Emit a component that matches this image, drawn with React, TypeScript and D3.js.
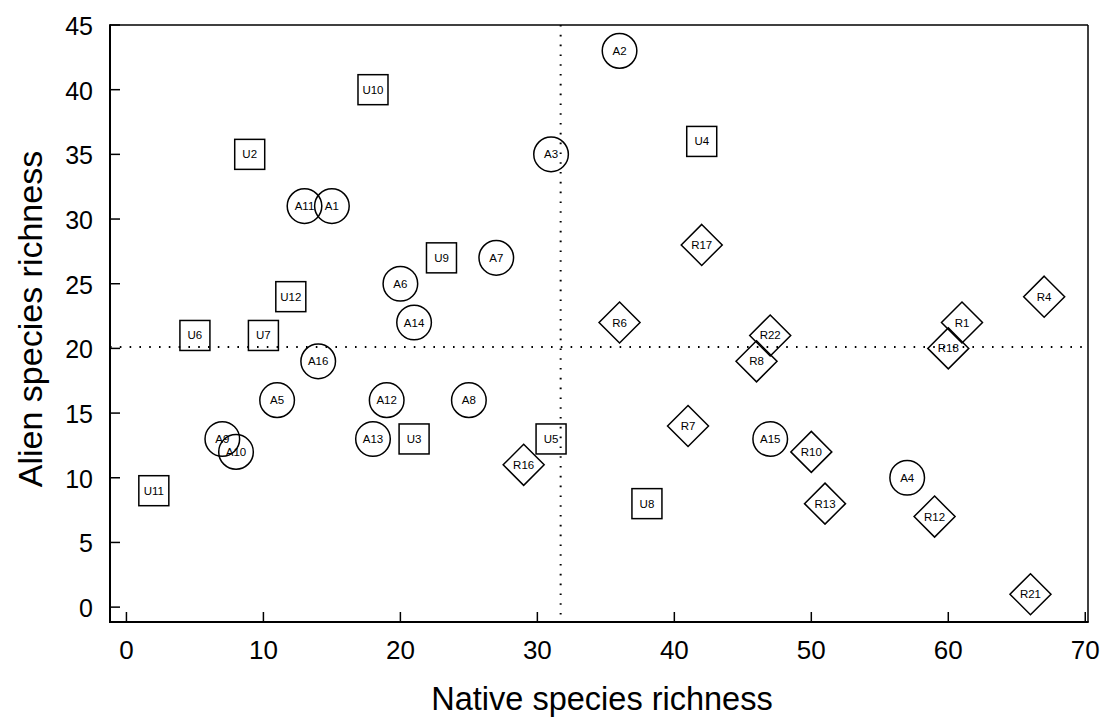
import React from "react";
import * as d3 from "d3";

const labelsA = ["A1","A2","A3","A4","A5","A6","A7","A8","A9","A10","A11","A12","A13","A14","A15","A16"];
const nativeA = [15,36,31,57,11,20,27,25,7,8,13,19,18,21,47,14];
const alienA = [31,43,35,10,16,25,27,16,13,12,31,16,13,22,13,19];

const labelsU = ["U2","U3","U4","U5","U6","U7","U8","U9","U10","U11","U12"];
const nativeU = [9,21,42,31,5,10,38,23,18,2,12];
const alienU = [35,13,36,13,21,21,8,27,40,9,24];

const labelsR = ["R1","R4","R6","R7","R8","R10","R12","R13","R16","R17","R18","R21","R22"];
const nativeR = [61,67,36,41,46,50,59,51,29,42,60,66,47];
const alienR = [22,24,22,14,19,12,7,8,11,28,20,1,21];

const xTicks = [0,10,20,30,40,50,60,70];
const yTicks = [0,5,10,15,20,25,30,35,40,45];
const vLine = 31.7;
const hLine = 20.1;

const W = 1107, H = 719;
const L = 110, R = 1088, T = 25, B = 622;

export default function App() {
  const x = d3.scaleLinear().domain([-1.2, 70.2]).range([L, R]);
  const y = d3.scaleLinear().domain([-1.15, 45]).range([B, T]);
  const font = "'Liberation Sans', Arial, sans-serif";
  const labelSize = 11.5;

  return (
    <svg width={W} height={H} style={{ position: "absolute", left: 0, top: 0, background: "#fff" }} fontFamily={font}>
      {/* dotted reference lines */}
      <line x1={x(vLine)} x2={x(vLine)} y1={T} y2={B} stroke="#000" strokeWidth={2} strokeDasharray="1.6,8.2" />
      <line x1={L} x2={R} y1={y(hLine)} y2={y(hLine)} stroke="#000" strokeWidth={2} strokeDasharray="1.6,8.2" />

      {/* frame */}
      <line x1={L} x2={R} y1={T} y2={T} stroke="#000" strokeWidth={1.5} />
      <line x1={R} x2={R} y1={T} y2={B} stroke="#000" strokeWidth={1.5} />
      <line x1={L} x2={L} y1={T - 0.75} y2={B + 1} stroke="#000" strokeWidth={2} />
      <line x1={L - 1} x2={R + 0.75} y1={B} y2={B} stroke="#000" strokeWidth={2} />

      {/* ticks */}
      {xTicks.map((t) => (
        <g key={"xt" + t}>
          <line x1={x(t)} x2={x(t)} y1={B} y2={B - 10} stroke="#000" strokeWidth={1.5} />
          <text x={x(t)} y={659} textAnchor="middle" fontSize={26}>{t}</text>
        </g>
      ))}
      {yTicks.map((t) => (
        <g key={"yt" + t}>
          <line x1={L} x2={L + 10} y1={y(t)} y2={y(t)} stroke="#000" strokeWidth={1.5} />
          <text x={93} y={y(t) + 10} textAnchor="end" fontSize={25}>{t}</text>
        </g>
      ))}

      {/* axis titles */}
      <text x={602} y={710} textAnchor="middle" fontSize={32.5}>Native species richness</text>
      <text transform={`translate(42,319) rotate(-90)`} textAnchor="middle" fontSize={34}>Alien species richness</text>

      {/* circles A */}
      {labelsA.map((lab, i) => (
        <g key={lab}>
          <circle cx={x(nativeA[i])} cy={y(alienA[i])} r={17.3} fill="none" stroke="#000" strokeWidth={1.5} />
          <text x={x(nativeA[i])} y={y(alienA[i]) + 4} textAnchor="middle" fontSize={labelSize}>{lab}</text>
        </g>
      ))}

      {/* squares U */}
      {labelsU.map((lab, i) => (
        <g key={lab}>
          <rect x={x(nativeU[i]) - 15} y={y(alienU[i]) - 15} width={30} height={30} fill="none" stroke="#000" strokeWidth={1.5} />
          <text x={x(nativeU[i])} y={y(alienU[i]) + 4} textAnchor="middle" fontSize={labelSize}>{lab}</text>
        </g>
      ))}

      {/* diamonds R */}
      {labelsR.map((lab, i) => {
        const cx = x(nativeR[i]);
        const cy = y(alienR[i]);
        const d = 20.5;
        return (
          <g key={lab}>
            <path d={`M${cx},${cy - d}L${cx + d},${cy}L${cx},${cy + d}L${cx - d},${cy}Z`} fill="none" stroke="#000" strokeWidth={1.5} />
            <text x={cx} y={cy + 4} textAnchor="middle" fontSize={labelSize}>{lab}</text>
          </g>
        );
      })}
    </svg>
  );
}
